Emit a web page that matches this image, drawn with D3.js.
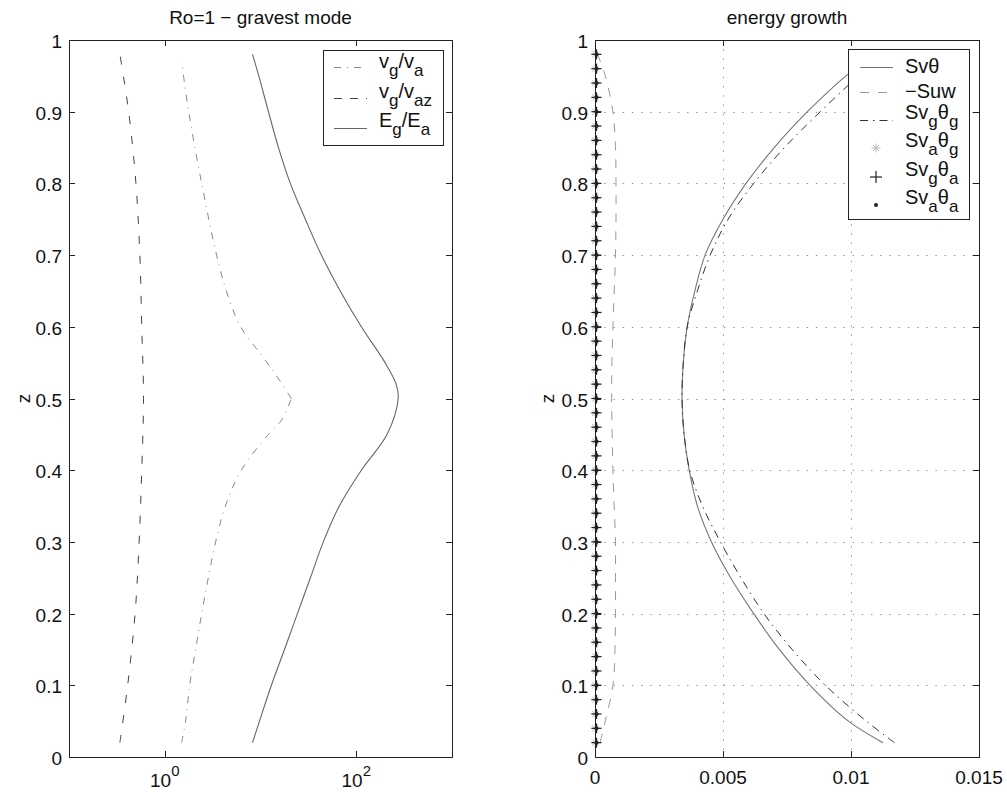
<!DOCTYPE html>
<html><head><meta charset="utf-8">
<script src="https://cdnjs.cloudflare.com/ajax/libs/d3/7.8.5/d3.min.js"></script>
<style>body{margin:0;background:#fff} text{font-family:"Liberation Sans",Arial,Helvetica,sans-serif;fill:#111}</style>
</head><body><svg id="c" width="1007" height="792"></svg>
<script>
// ---------- Left panel data (Ro=1 - gravest mode) ----------
const zVgVaz = [0.02,0.1,0.2,0.3,0.4,0.5,0.6,0.7,0.8,0.9,0.98];
const vgVaz  = [0.34,0.41,0.49,0.54,0.575,0.60,0.575,0.55,0.50,0.42,0.34];

const zVgVaLow = [0.02,0.05,0.1,0.15,0.2,0.25,0.3,0.35,0.4,0.45,0.47,0.5];
const vgVaLow  = [1.50,1.65,1.82,2.10,2.43,2.85,3.40,4.3,6.3,12.1,16.6,21.0];
const zVgVaHigh = [0.5,0.53,0.56,0.6,0.65,0.7,0.8,0.9,0.97];
const vgVaHigh  = [21.0,15.0,10.3,6.2,4.4,3.48,2.43,1.78,1.50];

const zEgEa = [0.02,0.05,0.1,0.15,0.2,0.25,0.3,0.35,0.4,0.45,0.5,0.52,0.55,0.6,0.65,0.7,0.75,0.8,0.85,0.9,0.95,0.98];
const egEa  = [8.25,9.76,13.0,17.8,24.3,33.2,45.3,66.5,113,210,274,261,200,113,68,43.2,29.4,20.5,15.4,12.1,9.6,8.25];

const leftXTicks = [1, 100];
const leftXTickExp = ["0", "2"];
const yTicks = [0,0.1,0.2,0.3,0.4,0.5,0.6,0.7,0.8,0.9,1];

// ---------- Right panel data (energy growth) ----------
const zR = [0.02,0.05,0.1,0.15,0.2,0.25,0.3,0.35,0.4,0.45,0.5,0.55,0.6,0.65,0.7,0.75,0.8,0.85,0.9,0.95,0.98];
const svTheta   = [0.01125,0.0099,0.0084,0.0072,0.0062,0.0053,0.00455,0.0040,0.00368,0.00348,0.0034,0.00345,0.0036,0.0039,0.0043,0.0050,0.0059,0.0070,0.0083,0.0098,0.0109];
const minusSuw  = [0.0002,0.0004,0.0007,0.00078,0.0008,0.0008,0.0008,0.00075,0.0007,0.00067,0.00065,0.00066,0.0007,0.00075,0.0008,0.00082,0.00082,0.0008,0.0007,0.0004,0.0001];
const svgThetag = [0.0117,0.0106,0.0090,0.0077,0.0066,0.0057,0.0049,0.0042,0.0037,0.00348,0.0034,0.00345,0.0036,0.0040,0.0045,0.0052,0.0062,0.0074,0.0088,0.0103,0.0113];

const zMarkers = [0.02,0.04,0.06,0.08,0.1,0.12,0.14,0.16,0.18,0.2,0.22,0.24,0.26,0.28,0.3,0.32,0.34,0.36,0.38,0.4,0.42,0.44,0.46,0.48,0.5,0.52,0.54,0.56,0.58,0.6,0.62,0.64,0.66,0.68,0.7,0.72,0.74,0.76,0.78,0.8,0.82,0.84,0.86,0.88,0.9,0.92,0.94,0.96,0.98];
const svaThetag = [0.00001,0.00001,0.00001,0.00001,0.00001,0.00001,0.00001,0.00001,0.00001,0.00001,0.00001,0.00001,0.00001,0.00001,0.00001,0.00001,0.00001,0.00001,0.00001,0.00001,0.00001,0.00001,0.00001,0.00001,0.00001,0.00001,0.00001,0.00001,0.00001,0.00001,0.00001,0.00001,0.00001,0.00001,0.00001,0.00001,0.00001,0.00001,0.00001,0.00001,0.00001,0.00001,0.00001,0.00001,0.00001,0.00001,0.00001,0.00001,0.00001];
const svgThetaa = [0.00006,0.00006,0.00006,0.00006,0.00006,0.00006,0.00006,0.00006,0.00006,0.00006,0.00006,0.00006,0.00006,0.00006,0.00006,0.00006,0.00006,0.00006,0.00006,0.00006,0.00006,0.00006,0.00006,0.00006,0.00006,0.00006,0.00006,0.00006,0.00006,0.00006,0.00006,0.00006,0.00006,0.00006,0.00006,0.00006,0.00006,0.00006,0.00006,0.00006,0.00006,0.00006,0.00006,0.00006,0.00006,0.00006,0.00006,0.00006,0.00006];
const svaThetaa = [0.00006,0.00006,0.00006,0.00006,0.00006,0.00006,0.00006,0.00006,0.00006,0.00006,0.00006,0.00006,0.00006,0.00006,0.00006,0.00006,0.00006,0.00006,0.00006,0.00006,0.00006,0.00006,0.00006,0.00006,0.00006,0.00006,0.00006,0.00006,0.00006,0.00006,0.00006,0.00006,0.00006,0.00006,0.00006,0.00006,0.00006,0.00006,0.00006,0.00006,0.00006,0.00006,0.00006,0.00006,0.00006,0.00006,0.00006,0.00006,0.00006];
const rightXTicks = [0,0.005,0.01,0.015];
const rightXTickLabels = ["0","0.005","0.01","0.015"];

// ---------- Layout ----------
const svg = d3.select("#c");
const yTop = 40, yBot = 757;
const L = {x0:69, x1:452}, R = {x0:595, x1:979};
const y = d3.scaleLinear().domain([0,1]).range([yBot, yTop]);
const xL = d3.scaleLog().domain([0.1,1000]).range([L.x0, L.x1]);
const xR = d3.scaleLinear().domain([0,0.015]).range([R.x0, R.x1]);
const AX = "#222", TL = 6, FS = 19;
const curve = d3.curveCatmullRom.alpha(0.5);

function frame(x0, x1, xTickPos, title, ylabX) {
  const g = svg.append("g");
  yTicks.forEach(t => {
    const yy = Math.round(y(t)) + 0.5;
    g.append("line").attr("x1", x0).attr("x2", x0+TL).attr("y1", yy).attr("y2", yy).attr("stroke", AX);
    g.append("line").attr("x1", x1-TL).attr("x2", x1).attr("y1", yy).attr("y2", yy).attr("stroke", AX);
    g.append("text").attr("x", x0-7).attr("y", yy+7).attr("text-anchor","end").attr("font-size", FS)
      .text(d3.format("~g")(t));
  });
  xTickPos.forEach(px => {
    const xx = Math.round(px) + 0.5;
    g.append("line").attr("x1", xx).attr("x2", xx).attr("y1", yBot).attr("y2", yBot-TL).attr("stroke", AX);
    g.append("line").attr("x1", xx).attr("x2", xx).attr("y1", yTop).attr("y2", yTop+TL).attr("stroke", AX);
  });
  g.append("rect").attr("x", x0+0.5).attr("y", yTop+0.5).attr("width", x1-x0).attr("height", yBot-yTop)
    .attr("fill","none").attr("stroke", AX).attr("stroke-width", 1);
  g.append("text").attr("x", (x0+x1)/2).attr("y", 24).attr("text-anchor","middle").attr("font-size", 19).text(title);
  g.append("text").attr("transform", `translate(${ylabX},${(yTop+yBot)/2}) rotate(-90)`)
    .attr("text-anchor","middle").attr("font-size", FS).text("z");
}

// ---------- Left panel ----------
const lineL = d3.line().x(d => xL(d[1])).y(d => y(d[0])).curve(curve);
const gL = svg.append("g");
gL.append("path").attr("d", lineL(d3.zip(zVgVaz, vgVaz))).attr("fill","none")
  .attr("stroke","#444").attr("stroke-width",1).attr("stroke-dasharray","8,12");
gL.append("path").attr("d", lineL(d3.zip(zVgVaLow, vgVaLow))).attr("fill","none")
  .attr("stroke","#888").attr("stroke-width",1).attr("stroke-dasharray","7,6,1,6");
gL.append("path").attr("d", lineL(d3.zip(zVgVaHigh, vgVaHigh))).attr("fill","none")
  .attr("stroke","#888").attr("stroke-width",1).attr("stroke-dasharray","7,6,1,6");
gL.append("path").attr("d", lineL(d3.zip(zEgEa, egEa))).attr("fill","none")
  .attr("stroke","#666").attr("stroke-width",1.1);

frame(L.x0, L.x1, leftXTicks.map(v => xL(v)), "Ro=1 \u2212 gravest mode", 30);
leftXTicks.forEach((v,i) => {
  const t = svg.append("text").attr("x", xL(v)).attr("y", 787).attr("text-anchor","middle").attr("font-size", FS);
  t.append("tspan").text("10");
  t.append("tspan").attr("dy", -11).attr("font-size", 15).text(leftXTickExp[i]);
});

// ---------- Right panel ----------
const gR = svg.append("g");
[0.005, 0.01].forEach(v => {
  gR.append("line").attr("x1", Math.round(xR(v))+0.5).attr("x2", Math.round(xR(v))+0.5).attr("y1", yTop).attr("y2", yBot)
    .attr("stroke","#999").attr("stroke-dasharray","1.5,7.7");
});
yTicks.slice(1,-1).forEach(t => {
  gR.append("line").attr("x1", R.x0).attr("x2", R.x1).attr("y1", Math.round(y(t))+0.5).attr("y2", Math.round(y(t))+0.5)
    .attr("stroke","#999").attr("stroke-dasharray","1.5,7.7");
});
const lineR = d3.line().x(d => xR(d[1])).y(d => y(d[0])).curve(curve);
gR.append("path").attr("d", lineR(d3.zip(zR, minusSuw))).attr("fill","none")
  .attr("stroke","#999").attr("stroke-width",1).attr("stroke-dasharray","9,9");
gR.append("path").attr("d", lineR(d3.zip(zR, svTheta))).attr("fill","none")
  .attr("stroke","#777").attr("stroke-width",1.1);
gR.append("path").attr("d", lineR(d3.zip(zR, svgThetag))).attr("fill","none")
  .attr("stroke","#333").attr("stroke-width",1).attr("stroke-dasharray","8,5,1.5,5");

function asterisk(g, cx, cy, s, col) {
  [[-s,0,s,0],[0,-s,0,s],[-s*0.7,-s*0.7,s*0.7,s*0.7],[-s*0.7,s*0.7,s*0.7,-s*0.7]].forEach(a =>
    g.append("line").attr("x1",cx+a[0]).attr("y1",cy+a[1]).attr("x2",cx+a[2]).attr("y2",cy+a[3]).attr("stroke",col).attr("stroke-width",1));
}
function plus(g, cx, cy, s, col) {
  g.append("line").attr("x1",cx-s).attr("x2",cx+s).attr("y1",cy).attr("y2",cy).attr("stroke",col).attr("stroke-width",1.2);
  g.append("line").attr("x1",cx).attr("x2",cx).attr("y1",cy-s).attr("y2",cy+s).attr("stroke",col).attr("stroke-width",1.2);
}
zMarkers.forEach((z,i) => asterisk(gR, xR(svaThetag[i]), y(z), 4.5, "#bbb"));
zMarkers.forEach((z,i) => plus(gR, xR(svgThetaa[i]), y(z), 5, "#222"));
zMarkers.forEach((z,i) => gR.append("circle").attr("cx", xR(svaThetaa[i])).attr("cy", y(z)).attr("r", 2).attr("fill","#222"));

frame(R.x0, R.x1, rightXTicks.map(v => xR(v)), "energy growth", 554);
rightXTicks.forEach((v,i) => {
  svg.append("text").attr("x", xR(v)).attr("y", 784).attr("text-anchor","middle").attr("font-size", FS).text(rightXTickLabels[i]);
});

// ---------- Legends ----------
function legendBox(x0,y0,x1,y1){
  svg.append("rect").attr("x",x0+0.5).attr("y",y0+0.5).attr("width",x1-x0).attr("height",y1-y0)
    .attr("fill","#fff").attr("stroke",AX);
}
function subText(x, yb, parts) {
  const t = svg.append("text").attr("x", x).attr("y", yb).attr("font-size", 20);
  parts.forEach(p => {
    const s = t.append("tspan").text(p[0]);
    if (p[1]) s.attr("dy", p[1]);
    if (p[2]) s.attr("font-size", p[2]);
  });
}
legendBox(323, 50, 443, 145);
const leftLeg = [
  {y:67, stroke:"#888", dash:"7,6,1,6", parts:[["v"],["g",8,17],["/v",-8],["a",8,17]], base:68},
  {y:98, stroke:"#444", dash:"8,8", parts:[["v"],["g",8,17],["/v",-8],["az",8,17]], base:98},
  {y:128, stroke:"#666", dash:null, parts:[["E"],["g",8,17],["/E",-8],["a",8,17]], base:127}
];
leftLeg.forEach(e => {
  const l = svg.append("line").attr("x1",334).attr("x2",367).attr("y1",e.y+0.5).attr("y2",e.y+0.5).attr("stroke",e.stroke);
  if (e.dash) l.attr("stroke-dasharray", e.dash);
  subText(379, e.base, e.parts);
});

legendBox(848, 49, 969, 219);
const rightLeg = [
  {y:67, kind:"line", stroke:"#777", dash:null, parts:[["Sv\u03b8"]], base:73},
  {y:92, kind:"line", stroke:"#999", dash:"9,9", parts:[["\u2212Suw"]], base:98},
  {y:120, kind:"line", stroke:"#333", dash:"8,5,1.5,5", parts:[["Sv"],["g",8,17],["\u03b8",-8],["g",8,17]], base:119},
  {y:148, kind:"ast", parts:[["Sv"],["a",8,17],["\u03b8",-8],["g",8,17]], base:147},
  {y:177, kind:"plus", parts:[["Sv"],["g",8,17],["\u03b8",-8],["a",8,17]], base:176},
  {y:205, kind:"dot", parts:[["Sv"],["a",8,17],["\u03b8",-8],["a",8,17]], base:204}
];
rightLeg.forEach(e => {
  if (e.kind === "line") {
    const l = svg.append("line").attr("x1",860).attr("x2",893).attr("y1",e.y+0.5).attr("y2",e.y+0.5).attr("stroke",e.stroke);
    if (e.dash) l.attr("stroke-dasharray", e.dash);
  } else if (e.kind === "ast") asterisk(svg, 876, e.y, 4.5, "#bbb");
  else if (e.kind === "plus") plus(svg, 876, e.y, 6, "#222");
  else svg.append("circle").attr("cx",876).attr("cy",e.y).attr("r",2).attr("fill","#222");
  subText(905, e.base, e.parts);
});
</script></body></html>
